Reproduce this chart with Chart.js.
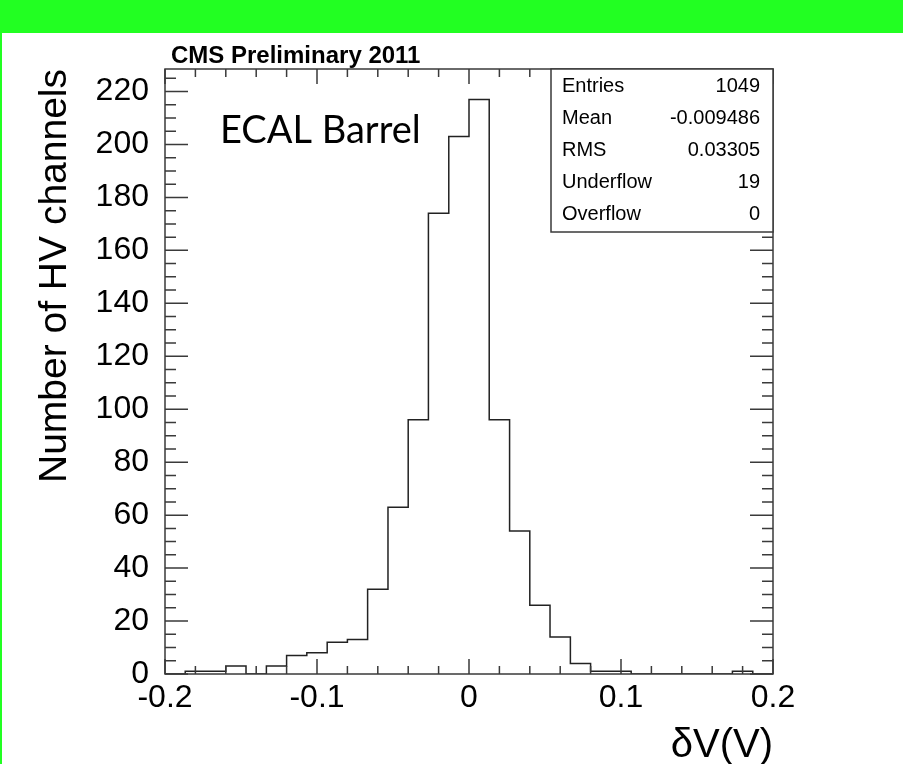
<!DOCTYPE html>
<html>
<head>
<meta charset="utf-8">
<title>ECAL Barrel HV channels</title>
<script src="https://cdn.jsdelivr.net/npm/chart.js@4.4.0/dist/chart.umd.min.js"></script>
<style>
  html, body { margin: 0; padding: 0; background: #fff; }
  #wrap { position: relative; width: 903px; height: 764px; overflow: hidden; }
  #band { position: absolute; left: 0; top: 0; width: 903px; height: 33px; background: #22ff22; }
  #edge { position: absolute; left: 0; top: 33px; width: 2px; height: 731px; background: #22ff22; }
  #chart { position: absolute; left: 0; top: 0; }
</style>
</head>
<body>
<div id="wrap">
  <div id="band"></div>
  <div id="edge"></div>
  <canvas id="chart" width="903" height="764"></canvas>
</div>
<script>
// histogram bin edges (30 bins from -0.2 to 0.2)
const binEdges = [
  -0.2000, -0.1867, -0.1733, -0.1600, -0.1467, -0.1333, -0.1200, -0.1067,
  -0.0933, -0.0800, -0.0667, -0.0533, -0.0400, -0.0267, -0.0133, 0.0000,
  0.0133, 0.0267, 0.0400, 0.0533, 0.0667, 0.0800, 0.0933, 0.1067,
  0.1200, 0.1333, 0.1467, 0.1600, 0.1733, 0.1867, 0.2000
];
// number of HV channels in each bin
const binCounts = [
  0, 1, 1, 3, 0, 3, 7, 8, 12, 13, 32, 63, 96, 174, 203,
  217, 96, 54, 26, 14, 4, 1, 1, 0, 0, 0, 0, 0, 1, 0
];
const xTicks = [-0.2, -0.1, 0, 0.1, 0.2];
const yTicks = [0, 20, 40, 60, 80, 100, 120, 140, 160, 180, 200, 220];
const statLabels = ["Entries", "Mean", "RMS", "Underflow", "Overflow"];
const statValues = ["1049", "-0.009486", "0.03305", "19", "0"];

const yMax = 228.5;
const FONT = '"Liberation Sans", Arial, Helvetica, sans-serif';
const AXIS = "#3a3a3a";

// step outline: a point at each left edge, last edge repeats the last bin
const points = binEdges.map((x, i) => ({
  x: x,
  y: binCounts[Math.min(i, binCounts.length - 1)]
}));

// frame with inward ticks on all four sides, ROOT style
const frameTicks = {
  id: "frameTicks",
  afterDatasetsDraw(chart) {
    const { ctx, chartArea: a } = chart;
    const x = chart.scales.x;
    const y = chart.scales.y;
    ctx.save();
    ctx.strokeStyle = AXIS;
    ctx.lineWidth = 1.5;
    ctx.strokeRect(a.left, a.top, a.right - a.left, a.bottom - a.top);
    ctx.beginPath();
    for (let k = -10; k <= 10; k++) {
      const px = x.getPixelForValue(k * 0.02);
      const len = k % 5 === 0 ? 15 : 8;
      ctx.moveTo(px, a.bottom);
      ctx.lineTo(px, a.bottom - len);
      ctx.moveTo(px, a.top);
      ctx.lineTo(px, a.top + len);
    }
    for (let v = 0; v <= yMax; v += 5) {
      const py = y.getPixelForValue(v);
      const len = v % 20 === 0 ? 23 : 11;
      ctx.moveTo(a.left, py);
      ctx.lineTo(a.left + len, py);
      ctx.moveTo(a.right, py);
      ctx.lineTo(a.right - len, py);
    }
    ctx.stroke();
    ctx.restore();
  }
};

// titles, text label and stats box
const annotations = {
  id: "annotations",
  afterDraw(chart) {
    const { ctx, chartArea: a } = chart;
    ctx.save();
    ctx.fillStyle = "#000";
    ctx.textBaseline = "alphabetic";

    ctx.font = "bold 24px " + FONT;
    ctx.textAlign = "left";
    ctx.fillText("CMS Preliminary 2011", 171, 63);

    ctx.font = '38px Lato, "Open Sans", sans-serif';
    ctx.fillText("ECAL Barrel", 220, 143);

    ctx.font = "40px " + FONT;
    ctx.textAlign = "right";
    ctx.fillText("\u03B4V(V)", a.right, 757);

    ctx.save();
    ctx.translate(66, a.top);
    ctx.rotate(-Math.PI / 2);
    ctx.font = "39px " + FONT;
    ctx.textAlign = "right";
    ctx.fillText("Number of HV channels", 0, 0);
    ctx.restore();

    // stats box
    const bx = 551, by = a.top, bw = a.right - 551, bh = 163;
    ctx.fillStyle = "#fff";
    ctx.fillRect(bx, by, bw, bh);
    ctx.strokeStyle = AXIS;
    ctx.lineWidth = 1.5;
    ctx.strokeRect(bx, by, bw, bh);
    ctx.fillStyle = "#000";
    ctx.font = "20px " + FONT;
    ctx.textBaseline = "middle";
    statLabels.forEach((label, i) => {
      const rowY = by + 17 + i * 32;
      ctx.textAlign = "left";
      ctx.fillText(label, bx + 11, rowY);
      ctx.textAlign = "right";
      ctx.fillText(statValues[i], a.right - 13, rowY);
    });
    ctx.restore();
  }
};

new Chart(document.getElementById("chart"), {
  type: "line",
  data: {
    datasets: [{
      data: points,
      stepped: true,
      borderColor: "#222",
      borderWidth: 1.5,
      pointRadius: 0,
      fill: false
    }]
  },
  options: {
    responsive: false,
    animation: false,
    devicePixelRatio: 1,
    layout: { padding: { left: 0, top: 69, right: 130, bottom: 0 } },
    plugins: { legend: { display: false }, tooltip: { enabled: false } },
    scales: {
      x: {
        type: "linear",
        min: -0.2,
        max: 0.2,
        grid: { display: false },
        border: { display: false },
        afterBuildTicks: (scale) => { scale.ticks = xTicks.map((value) => ({ value })); },
        afterFit: (scale) => { scale.height = 90; },
        ticks: {
          autoSkip: false,
          maxRotation: 0,
          padding: -3,
          color: "#000",
          font: { family: FONT, size: 32 },
          callback: (v) => (v === 0 ? "0" : String(v))
        }
      },
      y: {
        type: "linear",
        min: 0,
        max: yMax,
        grid: { display: false },
        border: { display: false },
        afterBuildTicks: (scale) => { scale.ticks = yTicks.map((value) => ({ value })); },
        afterFit: (scale) => { scale.width = 165; },
        ticks: {
          autoSkip: false,
          padding: 8,
          color: "#000",
          font: { family: FONT, size: 32 },
          callback: (v) => String(v)
        }
      }
    }
  },
  plugins: [frameTicks, annotations]
});
</script>
</body>
</html>
